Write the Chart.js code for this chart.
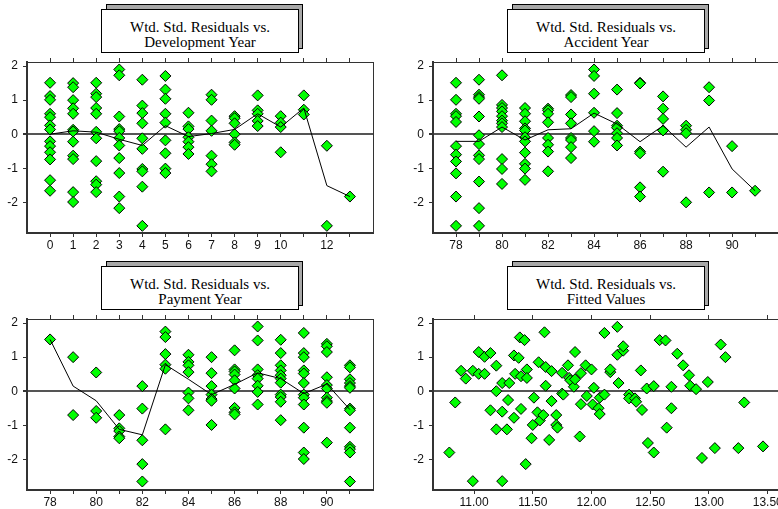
<!DOCTYPE html>
<html>
<head>
<meta charset="utf-8">
<script src="https://cdn.jsdelivr.net/npm/chart.js@4.4.1/dist/chart.umd.min.js"></script>
<style>
html, body { margin: 0; padding: 0; background: #fff; overflow: hidden; width: 778px; height: 509px; position: relative; }
canvas { position: absolute; }
.ttl { position: absolute; width: 198px; height: 44px; z-index: 5; }
.ttl .shadow { position: absolute; left: 5px; top: -5px; width: 197px; height: 45px; background: #a8a8a8; border: 1px solid #000; box-sizing: border-box; }
.ttl .front { position: absolute; left: 0; top: 0; width: 198px; height: 44px; background: #fff; border: 1px solid #000; box-sizing: border-box;
  font-family: 'Liberation Serif', 'Times New Roman', serif; font-size: 15px; line-height: 15px; text-align: center; padding-top: 10px; color: #000; }
</style>
</head>
<body>
<canvas id="c1" width="390" height="216" style="left:0;top:48px"></canvas>
<canvas id="c2" width="390" height="216" style="left:406px;top:48px"></canvas>
<canvas id="c3" width="390" height="216" style="left:0;top:305px"></canvas>
<canvas id="c4" width="390" height="216" style="left:406px;top:305px"></canvas>

<div class="ttl" style="left:101px;top:9px"><div class="shadow"></div><div class="front">Wtd. Std. Residuals vs.<br>Development Year</div></div>
<div class="ttl" style="left:507px;top:9px"><div class="shadow"></div><div class="front">Wtd. Std. Residuals vs.<br>Accident Year</div></div>
<div class="ttl" style="left:101px;top:266px"><div class="shadow"></div><div class="front">Wtd. Std. Residuals vs.<br>Payment Year</div></div>
<div class="ttl" style="left:507px;top:266px"><div class="shadow"></div><div class="front">Wtd. Std. Residuals vs.<br>Fitted Values</div></div>

<script>
// Данные: остатки по годам развития
var devYears = [0, 1, 2, 3, 4, 5, 6, 7, 8, 9, 10, 11, 12, 13];
var devTickLabels = ['0', '1', '2', '3', '4', '5', '6', '7', '8', '9', '10', '', '12', ''];
var devResiduals = [
    [1.51, 1.12, 1.01, 0.60, 0.50, 0.26, 0.14, -0.21, -0.35, -0.53, -0.74, -1.35, -1.66],
    [1.50, 1.38, 1.00, 0.76, 0.60, 0.13, 0.08, -0.22, -0.63, -0.73, -1.70, -1.99],
    [1.51, 1.19, 1.09, 0.77, 0.60, 0.07, -0.12, -0.79, -1.38, -1.48, -1.70],
    [1.90, 1.73, 0.52, 0.15, 0.09, -0.11, -0.33, -0.70, -1.14, -1.83, -2.17],
    [1.60, 0.84, 0.62, 0.32, -0.12, -0.43, -1.02, -1.09, -1.54, -2.69],
    [1.71, 1.31, 1.04, 0.60, 0.34, -0.18, -0.56, -1.01, -1.14],
    [0.63, 0.23, 0.15, -0.09, -0.22, -0.38, -0.58],
    [1.16, 1.01, 0.40, 0.10, -0.63, -0.88, -1.09],
    [0.53, 0.47, 0.32, 0.00, -0.24, -0.31],
    [1.14, 0.70, 0.60, 0.39, 0.24],
    [0.53, 0.34, 0.21, -0.53],
    [1.14, 0.72, 0.58],
    [-0.34, -2.69],
    [-1.83]
];
var devMean = [0.00, 0.10, 0.06, -0.15, -0.33, 0.25, -0.07, 0.02, 0.14, 0.60, 0.21, 0.77, -1.51, -1.83];

// Годы происшествия
var accYears = [78, 79, 80, 81, 82, 83, 84, 85, 86, 87, 88, 89, 90, 91];
var yearTickLabels = ['78', '', '80', '', '82', '', '84', '', '86', '', '88', '', '90', ''];
var accResiduals = [
    [1.51, 1.01, 0.60, 0.53, 0.36, -0.35, -0.60, -0.80, -1.15, -1.83, -2.69],
    [1.60, 1.16, 1.09, 1.04, 0.52, -0.03, -0.29, -0.62, -0.73, -1.39, -2.17, -2.69],
    [1.73, 0.86, 0.77, 0.67, 0.53, 0.40, 0.32, 0.21, -0.73, -1.02, -1.46],
    [0.77, 0.60, 0.38, 0.17, 0.11, -0.09, -0.21, -0.54, -0.87, -1.01, -1.34],
    [0.75, 0.70, 0.60, 0.35, -0.11, -0.31, -0.51, -1.09],
    [1.15, 1.09, 0.58, 0.32, -0.11, -0.17, -0.38, -0.70],
    [1.90, 1.71, 1.19, 0.63, 0.09, -0.22],
    [1.31, 0.62, 0.25, 0.19, 0.03, -0.11, -0.33],
    [1.51, 1.49, -0.51, -0.56, -1.56, -1.83],
    [1.11, 0.75, 0.45, 0.11, -1.10],
    [0.25, 0.13, 0.03, -2.00],
    [1.38, 0.99, -1.71],
    [-0.35, -1.71],
    [-1.66]
];
var accMean = [-0.21, -0.21, 0.21, -0.17, 0.13, 0.16, 0.62, 0.30, -0.22, 0.25, -0.38, 0.21, -1.02, -1.66];

// Годы оплаты
var payYears = [78, 79, 80, 81, 82, 83, 84, 85, 86, 87, 88, 89, 90, 91];
var payResiduals = [
    [1.52],
    [1.00, -0.70],
    [0.55, -0.58, -0.78],
    [-0.70, -1.09, -1.17, -1.33, -1.38],
    [0.15, -0.51, -1.44, -2.14, -2.65],
    [1.75, 1.59, 1.09, 0.78, 0.66, -1.12],
    [1.07, 0.86, 0.76, 0.56, -0.04, -0.21, -0.56],
    [1.00, 0.53, 0.15, -0.10, -0.23, -0.28, -0.99],
    [1.20, 0.64, 0.58, 0.49, 0.32, 0.08, -0.49, -0.62, -0.68],
    [1.90, 1.49, 0.64, 0.47, 0.37, 0.16, -0.02, -0.39],
    [1.51, 1.12, 0.76, 0.61, 0.47, 0.37, 0.25, -0.10, -0.17, -0.31, -0.85],
    [1.71, 1.12, 1.00, 0.61, 0.52, 0.24, -0.10, -0.19, -0.39, -1.07, -1.80, -1.99],
    [1.39, 1.32, 1.15, 0.41, 0.18, 0.08, -0.19, -0.29, -0.34, -1.51],
    [0.76, 0.70, 0.35, 0.24, 0.15, 0.10, -0.51, -0.56, -1.07, -1.63, -1.70, -1.80, -2.65]
];
var payMean = [1.52, 0.15, -0.28, -1.12, -1.28, 0.78, 0.35, -0.10, 0.20, 0.54, 0.37, -0.07, 0.21, -0.54];

// Подобранные значения
var fittedX = [10.79, 10.84, 10.89, 10.93, 10.99, 10.99, 11.04, 11.04, 11.09, 11.09, 11.14, 11.14, 11.19, 11.19, 11.19,
    11.24, 11.24, 11.24, 11.29, 11.30, 11.28, 11.34, 11.34, 11.35, 11.38, 11.39, 11.40, 11.40, 11.43, 11.45,
    11.45, 11.44, 11.49, 11.50, 11.51, 11.54, 11.55, 11.56, 11.59, 11.60, 11.61, 11.61, 11.66, 11.66, 11.64,
    11.70, 11.70, 11.71, 11.75, 11.75, 11.76, 11.80, 11.81, 11.82, 11.85, 11.86, 11.86, 11.91, 11.91, 11.90,
    11.95, 11.96, 12.00, 12.01, 12.02, 12.06, 12.07, 12.07, 12.11, 12.11, 12.16, 12.16, 12.22, 12.22, 12.23,
    12.27, 12.27, 12.32, 12.32, 12.37, 12.38, 12.42, 12.43, 12.47, 12.48, 12.53, 12.53, 12.58, 12.63, 12.64,
    12.68, 12.68, 12.73, 12.78, 12.83, 12.84, 12.89, 12.94, 12.99, 13.05, 13.10, 13.14, 13.25, 13.30, 13.46];
var fittedY = [-1.80, -0.33, 0.60, 0.37, 0.60, -2.64, 1.15, 0.51, 1.01, 0.51, -0.56, 1.12, 0.75, 0.00, -1.12,
    0.24, -0.60, -2.64, -0.26, 0.24, -1.12, -0.78, 1.05, 0.51, 0.98, 1.58, 0.44, -0.52, 1.50, 0.64,
    0.39, -2.14, -1.38, -0.99, -0.19, -0.62, 0.85, -0.86, -0.70, 1.73, 0.71, 0.16, 0.59, -0.29, -1.43,
    -0.70, -0.99, -1.07, 0.54, -0.07, -0.10, 0.76, 0.39, 0.32, 0.13, 1.15, 0.35, 0.53, -0.38, -1.33,
    0.76, -0.14, 0.64, -0.39, 0.10, -0.50, -0.67, -0.19, 1.71, -0.10, 0.56, 0.64, 1.07, 1.89, 0.24,
    1.19, 1.32, -0.10, -0.21, -0.21, -0.31, 0.61, -0.55, 0.08, -1.52, 0.15, -1.80, 1.50, 1.49, -1.07,
    -0.50, 0.13, 1.10, 0.76, 0.47, 0.16, 0.06, -1.96, 0.27, -1.67, 1.37, 1.00, -1.67, -0.33, -1.62];
var fittedTicks = [11.0, 11.5, 12.0, 12.5, 13.0, 13.5];
var fittedTickLabels = ['11.00', '11.50', '12.00', '12.50', '13.00', '13.50'];

var yTicks = [-2, -1, 0, 1, 2];
var yTickLabels = ['-2', '-1', '0', '1', '2'];

var tickFont = { family: "'Liberation Sans Narrow', 'Liberation Sans', Arial, sans-serif", size: 12 };
var axisColor = '#333';

// Точки из групп по годам
function groupPoints(xs, groups) {
    var pts = [];
    for (var i = 0; i < xs.length; i++) {
        for (var j = 0; j < groups[i].length; j++) {
            pts.push({ x: xs[i], y: groups[i][j] });
        }
    }
    return pts;
}

function linePoints(xs, ys) {
    return xs.map(function(x, i) { return { x: x, y: ys[i] }; });
}

function makeChart(id, points, meanPts, xMin, xMax, xTicks, xLabels, padRight) {
    var canvas = document.getElementById(id);
    var datasets = [];
    if (meanPts) {
        datasets.push({
            data: meanPts, showLine: true, borderColor: '#000', borderWidth: 1,
            pointRadius: 0, fill: false, order: 0
        });
    }
    datasets.push({
        data: points, pointStyle: 'rectRot', pointRadius: 5.5,
        backgroundColor: '#00ff00', borderColor: '#000', borderWidth: 1, order: 1
    });
    var setTicks = function(vals) {
        return function(s) { s.ticks = vals.map(function(v) { return { value: v }; }); };
    };
    new Chart(canvas, {
        type: 'scatter',
        data: { datasets: datasets },
        options: {
            responsive: false,
            animation: false,
            devicePixelRatio: 1,
            layout: { padding: { left: 0, right: padRight, top: 0, bottom: 0 } },
            plugins: { legend: { display: false }, tooltip: { enabled: false } },
            scales: {
                x: {
                    type: 'linear', position: 'bottom', min: xMin, max: xMax,
                    afterBuildTicks: setTicks(xTicks),
                    afterFit: function(s) { s.height = 31; },
                    grid: { drawOnChartArea: false, drawTicks: true, tickLength: 4, tickColor: axisColor, color: axisColor },
                    border: { display: true, color: axisColor, width: 2 },
                    ticks: {
                        autoSkip: false, maxRotation: 0, padding: 1, color: '#111', font: tickFont,
                        callback: function(v, i) { return xLabels[i]; }
                    }
                },
                xTop: {
                    type: 'linear', position: 'top', min: xMin, max: xMax,
                    afterBuildTicks: setTicks(xTicks),
                    afterFit: function(s) { s.height = 14; },
                    grid: { drawOnChartArea: false, drawTicks: true, tickLength: 4, tickColor: axisColor, color: axisColor },
                    border: { display: true, color: axisColor, width: 1 },
                    ticks: { display: false }
                },
                y: {
                    type: 'linear', position: 'left', min: -2.9, max: 2.12,
                    afterBuildTicks: setTicks(yTicks),
                    afterFit: function(s) { s.width = 27; },
                    grid: {
                        drawOnChartArea: true, drawTicks: true, tickLength: 4, tickColor: axisColor,
                        color: function(ctx) { return ctx.tick && ctx.tick.value === 0 ? '#555' : 'rgba(0,0,0,0)'; },
                        lineWidth: function(ctx) { return ctx.tick && ctx.tick.value === 0 ? 2 : 1; }
                    },
                    border: { display: true, color: axisColor, width: 2 },
                    ticks: {
                        padding: 5, color: '#111', font: tickFont,
                        callback: function(v, i) { return yTickLabels[i]; }
                    }
                },
                yRight: {
                    type: 'linear', position: 'right', min: -2.9, max: 2.12,
                    afterFit: function(s) { s.width = 0; },
                    grid: { display: false },
                    border: { display: true, color: axisColor, width: 1 },
                    ticks: { display: false }
                }
            }
        }
    });
}

document.addEventListener('DOMContentLoaded', function() {
    makeChart('c1', groupPoints(devYears, devResiduals), linePoints(devYears, devMean),
        -1, 14, devYears, devTickLabels, 17);
    makeChart('c2', groupPoints(accYears, accResiduals), linePoints(accYears, accMean),
        77, 92.3, accYears, yearTickLabels, 11);
    makeChart('c3', groupPoints(payYears, payResiduals), linePoints(payYears, payMean),
        77, 92, payYears, yearTickLabels, 17);
    makeChart('c4', linePoints(fittedX, fittedY), null,
        10.651, 13.647, fittedTicks, fittedTickLabels, 11);
});
</script>
</body>
</html>
